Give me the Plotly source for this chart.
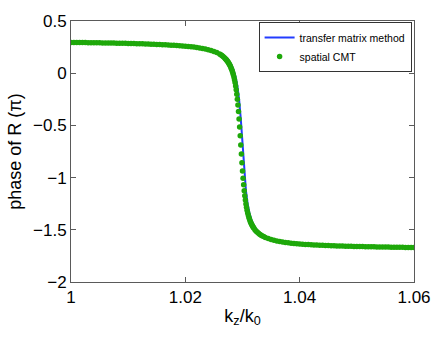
import plotly.graph_objects as go

# spatial CMT samples (k_z/k_0, phase of R in units of pi)
cmt_k = [1.000, 1.0005, 1.001, 1.0015, 1.002, 1.0025, 1.003, 1.0035, 1.004, 1.0045,
         1.005, 1.0055, 1.006, 1.0065, 1.007, 1.0075, 1.008, 1.0085, 1.009, 1.0095,
         1.010, 1.0105, 1.011, 1.0115, 1.012, 1.0125, 1.013, 1.0135, 1.014, 1.0145,
         1.015, 1.0155, 1.016, 1.0165, 1.017, 1.0175, 1.018, 1.0185, 1.019, 1.0195,
         1.020, 1.0205, 1.021, 1.0215, 1.022, 1.0225, 1.023, 1.0235, 1.024, 1.0245,
         1.025, 1.0255, 1.026, 1.0262, 1.0264, 1.0266, 1.0268, 1.027, 1.0271, 1.0272,
         1.0273, 1.0274, 1.0275, 1.0276, 1.0277, 1.0278, 1.0279, 1.0280, 1.0281, 1.0282,
         1.0283, 1.0284, 1.0285, 1.0286, 1.0287, 1.0288, 1.0289, 1.0290, 1.0291, 1.0292,
         1.0293, 1.0294, 1.0295, 1.0296, 1.0297, 1.0298, 1.0299, 1.0300, 1.0301, 1.0302,
         1.0303, 1.0304, 1.0305, 1.0306, 1.0307, 1.0308, 1.0309, 1.0310, 1.0311, 1.0312,
         1.0313, 1.0314, 1.0315, 1.0316, 1.0317, 1.0318, 1.0319, 1.0320, 1.0322, 1.0324,
         1.0326, 1.0328, 1.0330, 1.0332, 1.0334, 1.0337, 1.0340, 1.0345, 1.0350, 1.0355,
         1.0360, 1.0365, 1.0370, 1.0375, 1.0380, 1.0385, 1.0390, 1.0395, 1.0400, 1.0405,
         1.041, 1.0415, 1.042, 1.0425, 1.043, 1.0435, 1.044, 1.0445, 1.045, 1.0455,
         1.046, 1.0465, 1.047, 1.0475, 1.048, 1.0485, 1.049, 1.0495, 1.050, 1.0505,
         1.051, 1.0515, 1.052, 1.0525, 1.053, 1.0535, 1.054, 1.0545, 1.055, 1.0555,
         1.056, 1.0565, 1.057, 1.0575, 1.058, 1.0585, 1.059, 1.0595, 1.060]
cmt_phase = [0.2952, 0.2948, 0.2944, 0.2940, 0.2936, 0.2932, 0.2928, 0.2923, 0.2918, 0.2914,
             0.2909, 0.2904, 0.2899, 0.2894, 0.2888, 0.2882, 0.2876, 0.2870, 0.2863, 0.2857,
             0.2850, 0.2843, 0.2835, 0.2827, 0.2819, 0.2810, 0.2801, 0.2791, 0.2781, 0.2770,
             0.2759, 0.2747, 0.2734, 0.2720, 0.2705, 0.2689, 0.2672, 0.2653, 0.2633, 0.2611,
             0.2587, 0.2562, 0.2532, 0.2499, 0.2462, 0.2421, 0.2373, 0.2318, 0.2253, 0.2177,
             0.2084, 0.1971, 0.1829, 0.1761, 0.1685, 0.1600, 0.1504, 0.1395, 0.1335, 0.1270,
             0.1200, 0.1124, 0.1042, 0.0954, 0.0858, 0.0754, 0.0637, 0.0510, 0.0370, 0.0214,
             0.0042, -0.0151, -0.0372, -0.0619, -0.0900, -0.1220, -0.1586, -0.2006, -0.2489, -0.3044,
             -0.3672, -0.4380, -0.5161, -0.5999, -0.6869, -0.7739, -0.8577, -0.9358, -1.0066, -1.0695,
             -1.1250, -1.1732, -1.2153, -1.2519, -1.2838, -1.3119, -1.3366, -1.3587, -1.3781, -1.3953,
             -1.4108, -1.4249, -1.4376, -1.4493, -1.4596, -1.4692, -1.4781, -1.4863, -1.5008, -1.5134,
             -1.5243, -1.5339, -1.5424, -1.5499, -1.5567, -1.5650, -1.5734, -1.5843, -1.5932, -1.6005,
             -1.6068, -1.6121, -1.6168, -1.6209, -1.6245, -1.6277, -1.6305, -1.6332, -1.6355, -1.6377,
             -1.6397, -1.6415, -1.6432, -1.6447, -1.6462, -1.6475, -1.6488, -1.6500, -1.6511, -1.6522,
             -1.6532, -1.6541, -1.6550, -1.6559, -1.6567, -1.6575, -1.6582, -1.6590, -1.6597, -1.6604,
             -1.6610, -1.6616, -1.6622, -1.6628, -1.6633, -1.6638, -1.6643, -1.6648, -1.6653, -1.6658,
             -1.6662, -1.6667, -1.6671, -1.6676, -1.6680, -1.6684, -1.6688, -1.6692, -1.6695]

# transfer matrix method curve
tmm_k = [1.000, 1.005, 1.010, 1.015, 1.018, 1.020, 1.022, 1.024, 1.025, 1.026,
         1.027, 1.0275, 1.028, 1.0284, 1.0288, 1.0291, 1.0294, 1.0297, 1.0300, 1.0303,
         1.0306, 1.0309, 1.0312, 1.0316, 1.032, 1.0325, 1.033, 1.034, 1.036, 1.038,
         1.040, 1.045, 1.050, 1.055, 1.060]
tmm_phase = [0.2954, 0.2911, 0.2853, 0.2764, 0.2680, 0.2597, 0.2476, 0.2269, 0.2140, 0.1914,
             0.1552, 0.1270, 0.0858, 0.0370, -0.0372, -0.1220, -0.2489, -0.4380, -0.6869, -0.9358,
             -1.1250, -1.2519, -1.3366, -1.4108, -1.4596, -1.5008, -1.5291, -1.5650, -1.6043, -1.6225,
             -1.6345, -1.6507, -1.6594, -1.6651, -1.6694]

x_ticks = [1.0, 1.02, 1.04, 1.06]
x_labels = ['1', '1.02', '1.04', '1.06']
y_ticks = [0.5, 0, -0.5, -1, -1.5, -2]
y_labels = ['0.5', '0', '\u22120.5', '\u22121', '\u22121.5', '\u22122']

font = 'Liberation Sans, Arial, sans-serif'

fig = go.Figure()
fig.add_trace(go.Scatter(x=tmm_k, y=tmm_phase, mode='lines', name='transfer matrix method',
                         line={'color': 'rgb(35,60,255)', 'width': 2}))
fig.add_trace(go.Scatter(x=cmt_k, y=cmt_phase, mode='markers', name='spatial CMT',
                         marker={'color': 'rgb(30,168,10)', 'size': 5.5}))

axis_common = dict(showline=True, linecolor='#5a5a5a', linewidth=1, mirror='ticks',
                   ticks='inside', ticklen=5, tickcolor='#5a5a5a', showgrid=False,
                   zeroline=False, tickfont={'size': 17, 'color': 'black', 'family': font})

fig.update_xaxes(range=[1.0, 1.06], tickvals=x_ticks, ticktext=x_labels,
                 title={'text': 'k<sub>z</sub>/k<sub>0</sub>', 'font': {'size': 18, 'color': 'black'},
                        'standoff': 2},
                 **axis_common)
fig.update_yaxes(range=[-2, 0.5], tickvals=y_ticks, ticktext=y_labels,
                 title={'text': 'phase of R (\u03c0)', 'font': {'size': 18, 'color': 'black'},
                        'standoff': 6},
                 **axis_common)

fig.update_layout(
    width=443, height=338,
    margin={'l': 71, 'r': 24, 't': 16, 'b': 56},
    paper_bgcolor='white', plot_bgcolor='white',
    font={'family': font, 'color': 'black'},
    showlegend=True,
    legend={'x': 0.993, 'y': 0.996, 'xanchor': 'right', 'yanchor': 'top',
            'bgcolor': 'white', 'bordercolor': '#333', 'borderwidth': 1,
            'font': {'size': 10.5, 'color': 'black'}, 'tracegroupgap': 0,
            'itemwidth': 30},
)

fig.write_html("out.html", config={'displayModeBar': False},
               post_script="document.body.style.margin = '0';")
